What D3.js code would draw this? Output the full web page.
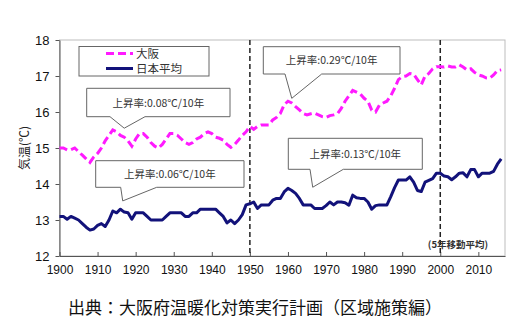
<!DOCTYPE html>
<html><head><meta charset="utf-8">
<script src="https://cdn.jsdelivr.net/npm/d3@7"></script>
<style>
html,body{margin:0;padding:0;background:#fff;}
svg{display:block;}
</style></head>
<body>
<svg id="chart" width="530" height="326"></svg>
<script>
const years = d3.range(1900, 2017);
const osaka = [
15.0,15.0,14.95,14.95,15.0,14.9,14.8,14.7,14.6,14.75,
14.85,15.0,15.2,15.35,15.5,15.45,15.35,15.3,15.2,15.05,
15.25,15.4,15.4,15.3,15.15,15.05,15.0,15.1,15.25,15.4,
15.4,15.35,15.25,15.15,15.1,15.15,15.25,15.3,15.4,15.45,
15.4,15.3,15.27,15.22,15.1,15.02,15.1,15.22,15.35,15.45,
15.6,15.52,15.6,15.64,15.64,15.64,15.78,15.85,15.96,16.2,
16.3,16.25,16.15,16.06,15.96,15.92,15.95,15.97,15.92,15.87,
15.85,15.9,15.92,15.95,16.1,16.3,16.45,16.6,16.55,16.5,
16.38,16.3,16.05,16.0,16.19,16.25,16.3,16.45,16.66,16.9,
16.98,17.0,17.07,17.05,16.9,16.75,17.0,17.07,17.2,17.26,
17.26,17.25,17.28,17.25,17.25,17.31,17.25,17.17,17.2,17.1,
17.03,17.0,16.95,16.94,17.03,17.15,17.17];
const japan = [
13.1,13.1,13.02,13.1,13.05,13.0,12.9,12.8,12.72,12.75,
12.85,12.9,12.82,13.0,13.25,13.2,13.3,13.22,13.2,13.02,
13.2,13.2,13.2,13.1,13.0,13.0,13.0,13.0,13.1,13.2,
13.2,13.2,13.2,13.1,13.1,13.2,13.2,13.3,13.3,13.3,
13.3,13.3,13.2,13.1,12.92,13.0,12.9,13.0,13.15,13.42,
13.45,13.5,13.32,13.42,13.42,13.42,13.55,13.6,13.6,13.78,
13.88,13.82,13.74,13.6,13.42,13.42,13.42,13.32,13.32,13.32,
13.4,13.5,13.42,13.5,13.5,13.48,13.41,13.69,13.62,13.6,
13.6,13.5,13.3,13.4,13.42,13.42,13.42,13.65,13.9,14.11,
14.11,14.11,14.2,14.05,13.82,13.79,14.05,14.1,14.15,14.3,
14.3,14.22,14.2,14.12,14.2,14.3,14.31,14.2,14.4,14.4,
14.2,14.3,14.3,14.3,14.35,14.55,14.7];
const xTicks = d3.range(1900, 2011, 10);
const yTicks = [12,13,14,15,16,17,18];
const seriesNames = ["大阪","日本平均"];
const markerYears = [1950, 2000];
const callouts = [
  {text:"上昇率:0.08℃/10年", box:[86.7,88.3,230,116.7], base:[110,145], tipYear:1917, tipVal:15.55},
  {text:"上昇率:0.06℃/10年", box:[95.7,160.7,244,187.3], base:[120.7,156.7], tipYear:1916.6, tipVal:13.53},
  {text:"上昇率:0.29℃/10年", box:[263.3,46.7,400,74], base:[285,321.7], tipYear:1961, tipVal:16.38},
  {text:"上昇率:0.13℃/10年", box:[288.3,138.3,422.3,169.3], base:[310,343.3], tipYear:1966.5, tipVal:13.91}
];

const svg = d3.select("#chart");
const L = 59.5, R = 505, T = 40, B = 256;
const x = d3.scaleLinear().domain([1900, 2017]).range([L, R]);
const y = d3.scaleLinear().domain([12, 18]).range([B, T]);
const font = "'Liberation Sans', Arial, sans-serif";
const cjk = "'Noto Sans CJK JP', sans-serif";

// frame
svg.append("rect").attr("x", L).attr("y", T).attr("width", R-L).attr("height", B-T)
  .attr("fill", "none").attr("stroke", "#bdbdbd").attr("stroke-width", 1);

// axes
const xAxis = d3.axisBottom(x).tickValues(xTicks).tickFormat(d3.format("d")).tickSizeInner(-4).tickSizeOuter(0).tickPadding(9);
const gx = svg.append("g").attr("transform", `translate(0,${B})`).call(xAxis);
gx.selectAll("text").attr("font-family", font).attr("font-size", 12).attr("fill", "#111");
gx.selectAll("line").attr("stroke", "#555");
gx.select(".domain").attr("stroke", "#555");

const yAxis = d3.axisLeft(y).tickValues(yTicks).tickFormat(d3.format("d")).tickSizeInner(4).tickSizeOuter(0).tickPadding(6);
const gy = svg.append("g").attr("transform", `translate(${L},0)`).call(yAxis);
gy.selectAll("text").attr("font-family", font).attr("font-size", 13).attr("fill", "#111");
gy.selectAll("line").attr("stroke", "#555");
gy.select(".domain").attr("stroke", "#555");

// y label
svg.append("text").attr("transform", "translate(29,148) rotate(-90)")
  .attr("text-anchor", "middle").attr("font-family", cjk).attr("font-size", 12).attr("fill", "#222")
  .text("気温(℃)");

// vertical dashed markers
markerYears.forEach(yr => {
  svg.append("line").attr("x1", x(yr)).attr("x2", x(yr)).attr("y1", T).attr("y2", B)
    .attr("stroke", "#222").attr("stroke-width", 1.5).attr("stroke-dasharray", "5,3");
});

const line = d3.line().x((d,i) => x(years[i])).y(d => y(d));
svg.append("path").datum(japan).attr("d", line).attr("fill", "none")
  .attr("stroke", "#12127a").attr("stroke-width", 3).attr("stroke-linejoin", "round");
svg.append("path").datum(osaka).attr("d", line).attr("fill", "none")
  .attr("stroke", "#ff1aff").attr("stroke-width", 3).attr("stroke-dasharray", "8,4");

// callouts
callouts.forEach(c => {
  const [x0,y0,x1,y1] = c.box;
  const tx = x(c.tipYear), ty = y(c.tipVal);
  const p = `M${x0},${y0}H${x1}V${y1}H${c.base[1]}L${tx},${ty}L${c.base[0]},${y1}H${x0}Z`;
  svg.append("path").attr("d", p).attr("fill", "#fff").attr("stroke", "#666").attr("stroke-width", 1);
  svg.append("text").attr("x", (x0+x1)/2).attr("y", (y0+y1)/2 + 4).attr("text-anchor", "middle")
    .attr("font-family", cjk).attr("font-size", 10.5).attr("fill", "#333").text(c.text);
});

// legend
svg.append("rect").attr("x", 79).attr("y", 46.5).attr("width", 130).attr("height", 29.5)
  .attr("fill", "#fff").attr("stroke", "#666").attr("stroke-width", 1);
svg.append("line").attr("x1", 106).attr("x2", 133).attr("y1", 53.5).attr("y2", 53.5)
  .attr("stroke", "#ff1aff").attr("stroke-width", 3).attr("stroke-dasharray", "8,4");
svg.append("line").attr("x1", 106).attr("x2", 133).attr("y1", 68.5).attr("y2", 68.5)
  .attr("stroke", "#12127a").attr("stroke-width", 3);
seriesNames.forEach((n,i) => {
  svg.append("text").attr("x", 136).attr("y", 57.5 + i*15).attr("font-family", cjk)
    .attr("font-size", 11.5).attr("fill", "#333").text(n);
});

// note
svg.append("text").attr("x", 458).attr("y", 248).attr("text-anchor", "middle")
  .attr("font-family", cjk).attr("font-size", 9.5).attr("font-weight", "bold").attr("fill", "#333")
  .text("(5年移動平均)");

// source caption
svg.append("text").attr("x", 255).attr("y", 313.5).attr("text-anchor", "middle")
  .attr("font-family", cjk).attr("font-size", 17).attr("fill", "#111")
  .text("出典：大阪府温暖化対策実行計画（区域施策編）");
</script>
</body></html>
